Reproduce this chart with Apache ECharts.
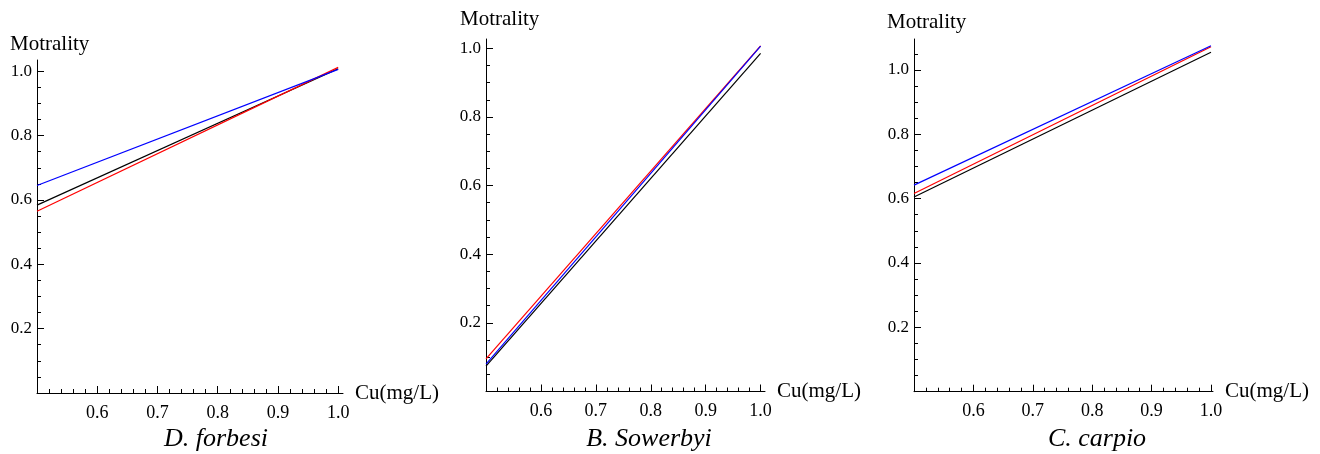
<!DOCTYPE html>
<html>
<head>
<meta charset="utf-8">
<script src="https://cdn.jsdelivr.net/npm/echarts@6/dist/echarts.min.js"></script>
<style>
  html, body { margin: 0; padding: 0; background: #fff; }
  #chart { width: 1320px; height: 454px; }
</style>
</head>
<body>
<div id="chart"></div>
<script>
// values: mortality at Cu = 0.5 and 1.0 mg/L
const cuLevels = [0.5, 1.0];
const speciesNames = ['D. forbesi', 'B. Sowerbyi', 'C. carpio'];
const forbesiBlack = [0.584, 1.008];
const forbesiRed = [0.565, 1.012];
const forbesiBlue = [0.645, 1.006];
const sowerbyiBlack = [0.074, 0.985];
const sowerbyiRed = [0.095, 1.007];
const sowerbyiBlue = [0.080, 1.006];
const carpioBlack = [0.605, 1.055];
const carpioRed = [0.616, 1.072];
const carpioBlue = [0.642, 1.075];

// ticks
const xMajorTicks = [0.5, 0.6, 0.7, 0.8, 0.9, 1.0];
const xLabelTicks = [0.6, 0.7, 0.8, 0.9, 1.0];
const xMinorTicks = [0.52, 0.54, 0.56, 0.58, 0.62, 0.64, 0.66, 0.68, 0.72, 0.74,
  0.76, 0.78, 0.82, 0.84, 0.86, 0.88, 0.92, 0.94, 0.96, 0.98];
const yMajorTicks = [0, 0.2, 0.4, 0.6, 0.8, 1.0];
const yLabelTicks = [0.2, 0.4, 0.6, 0.8, 1.0];
const yMinorTicks = [0.05, 0.1, 0.15, 0.25, 0.3, 0.35, 0.45, 0.5, 0.55, 0.65,
  0.7, 0.75, 0.85, 0.9, 0.95, 1.05];
const xAxisName = 'Cu(mg/L)';
const yAxisName = 'Motrality';

const lineColors = ['#000000', '#ff0000', '#0000ff'];
const serif = 'Liberation Serif';

const panels = [
  { grid: { left: 37, top: 60, width: 306, height: 333 }, xMax: 1.008, yMax: 1.035,
    lines: [forbesiBlack, forbesiRed, forbesiBlue], nameX: 10, nameY: 43, titleX: 216 },
  { grid: { left: 486, top: 39, width: 279, height: 352.5 }, xMax: 1.008, yMax: 1.027,
    lines: [sowerbyiBlack, sowerbyiRed, sowerbyiBlue], nameX: 460, nameY: 18, titleX: 649 },
  { grid: { left: 914, top: 39, width: 299, height: 352.7 }, xMax: 1.0034, yMax: 1.096,
    lines: [carpioBlack, carpioRed, carpioBlue], nameX: 887, nameY: 21, titleX: 1097 },
]

const axisLine = { show: true, lineStyle: { color: '#000', width: 1 } }
const isIn = (list, v) => list.some(t => Math.abs(t - v) < 1e-6)
const grids = [], xAxes = [], yAxes = [], series = [], texts = []

panels.forEach((p, i) => {
  grids.push({ ...p.grid, containLabel: false })

  // major axis (line, labels, long ticks)
  xAxes.push({
    type: 'value', gridIndex: i, position: 'bottom', min: 0.5, max: p.xMax, interval: 0.1,
    axisLine, splitLine: { show: false },
    axisTick: { show: true, inside: true, length: 7, customValues: xMajorTicks, lineStyle: { color: '#000' } },
    axisLabel: {
      show: true, margin: 11, color: '#000', fontFamily: serif, fontSize: 18,
      showMinLabel: true, showMaxLabel: true,
      formatter: (v) => isIn(xLabelTicks, v) ? Number(v).toFixed(1) : '',
    },
    name: xAxisName, nameLocation: 'end', nameGap: 12,
    nameTextStyle: { color: '#000', fontFamily: serif, fontSize: 21 },
  })
  yAxes.push({
    type: 'value', gridIndex: i, position: 'left', min: 0, max: p.yMax, interval: 0.2,
    axisLine, splitLine: { show: false },
    axisTick: { show: true, inside: true, length: 7, customValues: yMajorTicks, lineStyle: { color: '#000' } },
    axisLabel: {
      show: true, margin: 5, color: '#000', fontFamily: serif, fontSize: 17,
      showMinLabel: true, showMaxLabel: true,
      formatter: (v) => isIn(yLabelTicks, v) ? Number(v).toFixed(1) : '',
    },
  })
  // minor ticks on a second, silent axis
  xAxes.push({
    type: 'value', gridIndex: i, position: 'bottom', min: 0.5, max: p.xMax,
    axisLine: { show: false }, splitLine: { show: false }, axisLabel: { show: false },
    axisTick: { show: true, inside: true, length: 4, customValues: xMinorTicks, lineStyle: { color: '#000' } },
  })
  yAxes.push({
    type: 'value', gridIndex: i, position: 'left', min: 0, max: p.yMax,
    axisLine: { show: false }, splitLine: { show: false }, axisLabel: { show: false },
    axisTick: { show: true, inside: true, length: 4, customValues: yMinorTicks.filter(v => v <= p.yMax),
      lineStyle: { color: '#000' } },
  })

  p.lines.forEach((vals, k) => {
    series.push({
      type: 'line', xAxisIndex: i * 2, yAxisIndex: i * 2,
      data: cuLevels.map((x, j) => [x, vals[j]]),
      symbol: 'none', silent: true,
      lineStyle: { color: lineColors[k], width: 1.2 },
    })
  })

  texts.push({
    type: 'text', left: p.nameX, top: p.nameY - 9,
    style: { text: yAxisName, fill: '#000', font: '21px ' + serif },
  })
  texts.push({
    type: 'text', x: p.titleX, y: 439,
    style: { text: speciesNames[i], fill: '#000', font: 'italic 26px ' + serif, align: 'center', verticalAlign: 'middle' },
  })
})

const chart = echarts.init(document.getElementById('chart'), null, { renderer: 'canvas' })
chart.setOption({
  animation: false,
  textStyle: { fontFamily: serif, color: '#000' },
  grid: grids,
  xAxis: xAxes,
  yAxis: yAxes,
  series,
  graphic: texts,
})
</script>
</body>
</html>
